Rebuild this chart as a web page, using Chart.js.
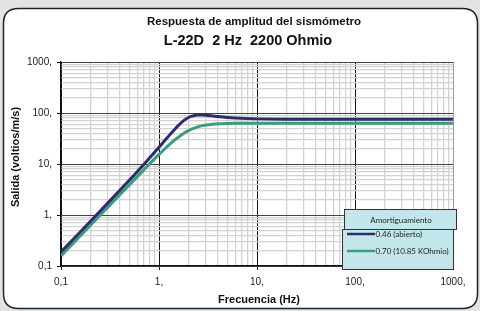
<!DOCTYPE html>
<html><head><meta charset="utf-8">
<script src="https://cdn.jsdelivr.net/npm/chart.js@4.4.1/dist/chart.umd.min.js"></script>
<style>html,body{margin:0;padding:0;background:#e1e3e5;}#wrap{width:480px;height:311px;position:relative;}</style>
</head><body><div id="wrap"><canvas id="c" width="480" height="311"></canvas></div>
<script>
const frequencies = [0.1,0.2,0.3,0.5,0.7,1,1.15,1.3,1.45,1.6,1.8,2,2.15,2.3,2.45,2.6,2.8,3,3.5,4,5,6,8,10,20,50,100,200,500,1000];
const openValues  = [0.188,0.754,1.71,4.86,9.83,21.3,29.1,38.1,48.2,58.6,71.5,81.5,86.6,89.7,91.3,91.8,91.5,90.6,87.8,85.2,81.8,79.8,77.7,76.7,75.4,75.1,75,75,75,75];
const dampedValues= [0.158,0.63,1.42,3.94,7.68,15.4,19.9,24.7,29.6,34.3,40.1,45,48.1,50.7,52.9,54.7,56.6,58,60.2,61.4,62.4,62.8,63,63,63,63,63,63,63,63];
const seriesNames = ['0.46 (abierto)','0.70 (10.85 KOhmio)'];
const legendTitle = 'Amortiguamiento';
const title1 = 'Respuesta de amplitud del sismómetro';
const title2 = 'L-22D  2 Hz  2200 Ohmio';
const xTitle = 'Frecuencia (Hz)';
const yTitle = 'Salida (voltios/m/s)';
const xDecades = [0.1,1,10,100,1000];
const xTickLabels = ['0,1','1,','10,','100,','1000,'];
const yDecades = [0.1,1,10,100,1000];
const yTickLabels = ['0,1','1,','10,','100,','1000,'];

const BLUE = '#2e2c6c', GREEN = '#3b9d7d';

function allTicks(dec){
  const t=[];
  for(let i=0;i<dec.length;i++){
    t.push(dec[i]);
    if(i<dec.length-1){ for(let m=2;m<=9;m++) t.push(+(dec[i]*m).toPrecision(3)); }
  }
  return t;
}
function isMajor(v,dec){ return dec.some(d=>Math.abs(v-d)/d<1e-6); }

const bgPlugin = {
  id:'bg',
  beforeDraw(chart){
    const ctx=chart.ctx;
    ctx.save();
    ctx.fillStyle='#e1e3e5';
    ctx.fillRect(0,0,480,311);
    const x=3.5,y=8.5,w=474,h=300,r=15;
    ctx.beginPath();
    ctx.moveTo(x+r,y);ctx.lineTo(x+w-r,y);ctx.quadraticCurveTo(x+w,y,x+w,y+r);
    ctx.lineTo(x+w,y+h-r);ctx.quadraticCurveTo(x+w,y+h,x+w-r,y+h);
    ctx.lineTo(x+r,y+h);ctx.quadraticCurveTo(x,y+h,x,y+h-r);
    ctx.lineTo(x,y+r);ctx.quadraticCurveTo(x,y,x+r,y);ctx.closePath();
    ctx.fillStyle='#ffffff';ctx.fill();
    ctx.lineWidth=1.5;ctx.strokeStyle='#222';ctx.stroke();
    ctx.restore();
  },
  afterDraw(chart){
    const ctx=chart.ctx;
    ctx.save();
    ctx.fillStyle='#111';
    ctx.textAlign='center';ctx.textBaseline='middle';
    ctx.font='bold 11.5px "Liberation Sans", Arial';
    ctx.fillText(title1,254,22);
    ctx.font='bold 14.5px "Liberation Sans", Arial';
    ctx.fillText(title2,248,41);
    ctx.font='bold 11px "Liberation Sans", Arial';
    ctx.fillText(xTitle,259,300);
    ctx.save();ctx.translate(16,157);ctx.rotate(-Math.PI/2);
    ctx.fillText(yTitle,0,0);ctx.restore();
    // legend
    ctx.fillStyle='#c3e6ed';ctx.strokeStyle='#333';ctx.lineWidth=1;
    ctx.fillRect(342.5,229.5,111,40);ctx.strokeRect(342.5,229.5,111,40);
    ctx.fillRect(344.5,209.5,112,20);ctx.strokeRect(344.5,209.5,112,20);
    ctx.fillStyle='#222';
    ctx.font='8px Lato, "Open Sans", sans-serif';
    ctx.fillText(legendTitle,401,220);
    ctx.textAlign='left';
    const items=[[BLUE,234],[GREEN,251]];
    items.forEach((it,i)=>{
      ctx.strokeStyle=it[0];ctx.lineWidth=2.5;
      ctx.beginPath();ctx.moveTo(347,it[1]);ctx.lineTo(375,it[1]);ctx.stroke();
      ctx.fillStyle='#222';
      ctx.fillText(seriesNames[i],375.5,it[1]+0.5);
    });
    ctx.restore();
  }
};

function gridColor(dec, majorColor){
  return c=>{ const v=c.tick&&c.tick.value; return isMajor(v,dec)?majorColor:'#d2d2d2'; };
}

new Chart(document.getElementById('c'),{
  type:'line',
  data:{datasets:[
    {label:seriesNames[0],data:frequencies.map((f,i)=>({x:f,y:openValues[i]})),borderColor:BLUE,borderWidth:3,pointRadius:0,cubicInterpolationMode:'monotone',fill:false},
    {label:seriesNames[1],data:frequencies.map((f,i)=>({x:f,y:dampedValues[i]})),borderColor:GREEN,borderWidth:3,pointRadius:0,cubicInterpolationMode:'monotone',fill:false}
  ]},
  options:{
    responsive:false,animation:false,devicePixelRatio:1,
    layout:{padding:{left:0,right:27,top:62,bottom:0}},
    plugins:{legend:{display:false},title:{display:false},tooltip:{enabled:false}},
    scales:{
      x:{type:'logarithmic',min:0.1,max:1000,
        afterBuildTicks:s=>{s.ticks=allTicks(xDecades).map(v=>({value:v}));},
        afterFit:s=>{s.height=45;},
        ticks:{autoSkip:false,maxRotation:0,padding:6,color:'#222',font:{family:'"Liberation Sans", Arial',size:10},
          callback:(v)=>{const i=xDecades.findIndex(d=>Math.abs(v-d)/d<1e-6);return i>=0?xTickLabels[i]:'';}},
        grid:{color:c=>{const v=c.tick&&c.tick.value; if(Math.abs(v-1000)<1e-6) return '#9a9a9a'; return isMajor(v,xDecades)?'#111':'#d2d2d2';},
          lineWidth:c=>isMajor(c.tick&&c.tick.value,xDecades)?1:1.3,
          tickColor:c=>isMajor(c.tick&&c.tick.value,xDecades)?'#111':'rgba(0,0,0,0)',tickLength:4,drawTicks:true},
        border:{color:'#111',width:1.3}
      },
      y:{type:'logarithmic',min:0.1,max:1000,
        afterBuildTicks:s=>{s.ticks=allTicks(yDecades).map(v=>({value:v}));},
        afterFit:s=>{s.width=61;},
        ticks:{autoSkip:false,padding:5,color:'#222',font:{family:'"Liberation Sans", Arial',size:10},
          callback:(v)=>{const i=yDecades.findIndex(d=>Math.abs(v-d)/d<1e-6);return i>=0?yTickLabels[i]:'';}},
        grid:{color:gridColor(yDecades,'#444'),
          lineWidth:c=>isMajor(c.tick&&c.tick.value,yDecades)?1:1.3,
          tickColor:c=>isMajor(c.tick&&c.tick.value,yDecades)?'#111':'rgba(0,0,0,0)',tickLength:4,drawTicks:true},
        border:{color:'#111',width:1.3}
      }
    }
  },
  plugins:[bgPlugin]
});
</script></body></html>
